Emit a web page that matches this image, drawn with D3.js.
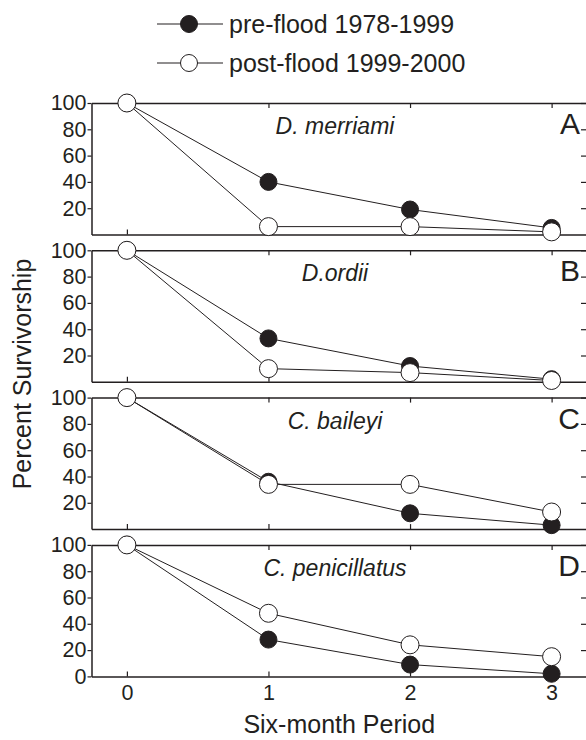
<!DOCTYPE html>
<html>
<head>
<meta charset="utf-8">
<script src="https://cdn.jsdelivr.net/npm/d3@7"></script>
<style>
  body { margin: 0; background: #fff; }
  svg { display: block; font-family: "Liberation Sans", Arial, sans-serif; }
</style>
</head>
<body>
<svg width="586" height="740"></svg>
<script>
const periods = [0, 1, 2, 3];
const speciesNames = ["D. merriami", "D.ordii", "C. baileyi", "C. penicillatus"];
const panelLetters = ["A", "B", "C", "D"];
const preFlood = [
    [100, 40, 19, 5],
    [100, 33, 12, 2],
    [100, 36, 12, 3],
    [100, 28, 9, 2]
];
const postFlood = [
    [100, 6, 6, 2],
    [100, 10, 7, 1],
    [100, 34, 34, 13],
    [100, 48, 24, 15]
];
const seriesLabels = ["pre-flood 1978-1999", "post-flood 1999-2000"];
const yTicks = [20, 40, 60, 80, 100];
const yTicksLast = [0, 20, 40, 60, 80, 100];

const ink = "#231f20";
const svg = d3.select("svg");

const left = 91.5, right = 587;
const panelTop0 = 103, panelStep = 147.3, panelH = 131.5;

const x = d3.scaleLinear().domain([-0.25, 3.25]).range([left, right]);

const line = d3.line()
    .x((d, i) => x(periods[i]))
    .y(d => d);

const styleAxis = (g, hideText) => {
    g.select(".domain").attr("stroke", ink).attr("stroke-width", 1.5).attr("fill", "none");
    g.selectAll(".tick line").attr("stroke", ink).attr("stroke-width", 1.2);
    g.selectAll("text").attr("fill", ink).attr("font-size", 21.5);
    if (hideText) g.selectAll("text").remove();
};

speciesNames.forEach((name, p) => {
    const top = panelTop0 + p*panelStep;
    const bottom = top + panelH;
    const y = d3.scaleLinear().domain([0, 100]).range([bottom, top]);
    const g = svg.append("g");
    const last = p === speciesNames.length - 1;

    // axes
    g.append("g")
        .attr("transform", `translate(${left},0)`)
        .call(d3.axisLeft(y).tickValues(last ? yTicksLast : yTicks).tickSizeInner(4).tickSizeOuter(0).tickPadding(1))
        .call(a => styleAxis(a, false));
    g.append("g")
        .attr("transform", `translate(${right},0)`)
        .call(d3.axisRight(y).tickValues(yTicks).tickSizeInner(-6).tickSizeOuter(0))
        .call(a => styleAxis(a, true));
    g.append("g")
        .attr("transform", `translate(0,${top})`)
        .call(d3.axisTop(x).tickValues(periods).tickSizeInner(-5).tickSizeOuter(0))
        .call(a => styleAxis(a, true));
    g.append("g")
        .attr("transform", `translate(0,${bottom})`)
        .call(d3.axisBottom(x).tickValues(periods).tickFormat(d3.format("d"))
            .tickSizeInner(-5).tickSizeOuter(0).tickPadding(8))
        .call(a => styleAxis(a, !last));

    // labels inside panel
    g.append("text")
        .attr("x", x(1.47))
        .attr("y", top + 31)
        .attr("text-anchor", "middle")
        .attr("font-size", 23)
        .attr("font-style", "italic")
        .attr("fill", ink)
        .text(name);
    g.append("text")
        .attr("x", 580)
        .attr("y", top + 31)
        .attr("text-anchor", "end")
        .attr("font-size", 30)
        .attr("fill", ink)
        .text(panelLetters[p]);

    // lines
    [preFlood[p], postFlood[p]].forEach(vals => {
        g.append("path")
            .attr("d", line(vals.map(v => y(v))))
            .attr("fill", "none")
            .attr("stroke", ink)
            .attr("stroke-width", 1);
    });

    // markers: filled first, open on top
    g.selectAll(".pre").data(preFlood[p]).join("circle")
        .attr("cx", (d, i) => x(periods[i]))
        .attr("cy", d => y(d))
        .attr("r", 8.5)
        .attr("fill", ink)
        .attr("stroke", ink)
        .attr("stroke-width", 1);
    g.selectAll(".post").data(postFlood[p]).join("circle")
        .attr("cx", (d, i) => x(periods[i]))
        .attr("cy", d => y(d))
        .attr("r", 9)
        .attr("fill", "#fff")
        .attr("stroke", ink)
        .attr("stroke-width", 1);
});

// axis titles
svg.append("text")
    .attr("transform", "translate(31,374) rotate(-90)")
    .attr("text-anchor", "middle")
    .attr("font-size", 25)
    .attr("fill", ink)
    .text("Percent Survivorship");
svg.append("text")
    .attr("x", x(1.5))
    .attr("y", 733)
    .attr("text-anchor", "middle")
    .attr("font-size", 25)
    .attr("fill", ink)
    .text("Six-month Period");

// legend
const legendY = [24, 63];
seriesLabels.forEach((lab, i) => {
    const lg = svg.append("g").attr("transform", `translate(0,${legendY[i]})`);
    lg.append("line")
        .attr("x1", 157).attr("x2", 223)
        .attr("stroke", ink).attr("stroke-width", 1.2);
    lg.append("circle")
        .attr("cx", 189).attr("r", 8.5)
        .attr("fill", i === 0 ? ink : "#fff")
        .attr("stroke", ink).attr("stroke-width", 1);
    lg.append("text")
        .attr("x", 229)
        .attr("dy", "0.35em")
        .attr("font-size", 25)
        .attr("fill", ink)
        .text(lab);
});
</script>
</body>
</html>
